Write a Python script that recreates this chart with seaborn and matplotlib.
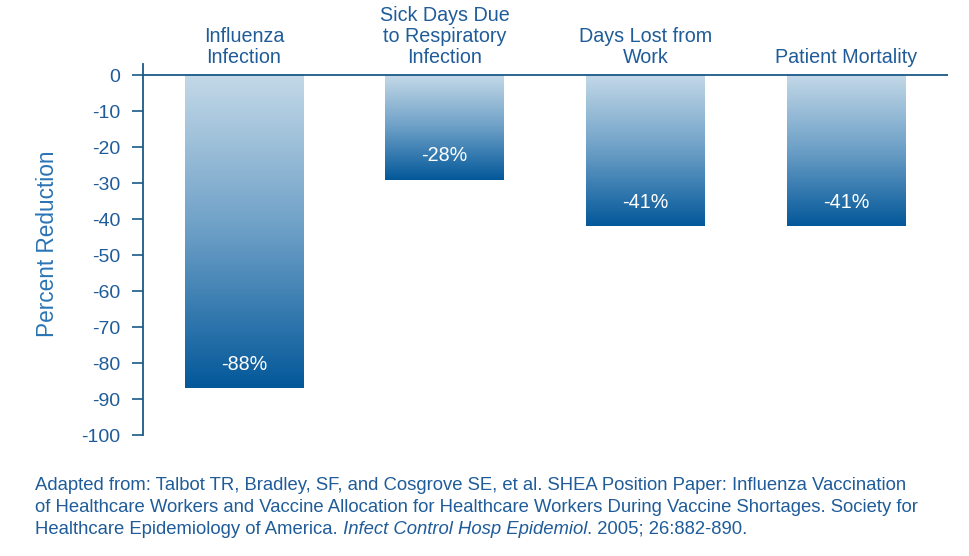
import numpy as np
import pandas as pd
import matplotlib
matplotlib.use("Agg")
import matplotlib.pyplot as plt
import seaborn as sns
from matplotlib.colors import LinearSegmentedColormap

# Data
categories = ["Influenza\nInfection", "Sick Days Due\nto Respiratory\nInfection",
              "Days Lost from\nWork", "Patient Mortality"]
bar_values = [-87, -29, -42, -42]
bar_labels = ["-88%", "-28%", "-41%", "-41%"]
y_ticks = [0, -10, -20, -30, -40, -50, -60, -70, -80, -90, -100]

TEXT_BLUE = "#1f5c99"
AXIS_BLUE = "#1a5a88"
LABEL_BLUE = "#2a74b4"
grad_cmap = LinearSegmentedColormap.from_list("bar_grad", ["#c4d9e8", "#6c9fc6", "#03589a"])

sns.set_theme(style="white")
plt.rcParams["font.family"] = ["Liberation Sans", "DejaVu Sans"]

fig = plt.figure(figsize=(9.69, 5.56), dpi=100)
ax = fig.add_axes([143 / 969, 1 - 435.3 / 556, (948 - 143) / 969, (435.3 - 64) / 556])

df = pd.DataFrame({"category": categories, "value": bar_values})
sns.barplot(data=df, x="category", y="value", width=0.59, ax=ax, color="white")

# gradient fill for each bar, light at the top and dark at the bottom
grad = np.linspace(0, 1, 256).reshape(-1, 1)
for patch, lab in zip(ax.patches, bar_labels):
    x0 = patch.get_x()
    w = patch.get_width()
    y0 = patch.get_y()
    h = patch.get_height()
    top, bot = max(y0, y0 + h), min(y0, y0 + h)
    patch.set_visible(False)
    ax.imshow(grad, extent=(x0, x0 + w, bot, top), origin="upper", aspect="auto",
              cmap=grad_cmap, zorder=2, interpolation="bicubic")
    ax.annotate(lab, xy=(x0 + w / 2, bot), xytext=(0, 24), textcoords="offset pixels",
                ha="center", va="center", color="white", fontsize=14.2, zorder=3)

# category labels above the zero line
for i, cat in enumerate(categories):
    ax.annotate(cat, xy=(i, 0), xytext=(0, 8), textcoords="offset pixels",
                ha="center", va="bottom", color=TEXT_BLUE, fontsize=14.2,
                linespacing=1.15, annotation_clip=False)

ax.set_xlim(-0.503, 3.508)
ax.set_ylim(-100, 3.1)
ax.axhline(0, color=AXIS_BLUE, lw=1.3, zorder=4)

ax.set_yticks(y_ticks)
ax.set_yticklabels([str(t) for t in y_ticks])
ax.set_xticks([])
ax.set_xlabel("")
ax.set_ylabel("Percent Reduction", color=LABEL_BLUE, fontsize=16.3)
ax.yaxis.set_label_coords(-0.104, 0.515)
ax.tick_params(axis="y", left=True, direction="out", length=8, width=1.2,
               color=AXIS_BLUE, labelcolor=TEXT_BLUE, labelsize=14, pad=8.5)
for side in ["top", "right", "bottom"]:
    ax.spines[side].set_visible(False)
ax.spines["left"].set_color(AXIS_BLUE)
ax.spines["left"].set_linewidth(1.3)

# source note, with the journal name in italics
note_size = 13.35
fig.text(35 / 969, 1 - 485 / 556,
         "Adapted from: Talbot TR, Bradley, SF, and Cosgrove SE, et al. SHEA Position Paper: Influenza Vaccination",
         color=TEXT_BLUE, fontsize=note_size, va="center", ha="left")
fig.text(35 / 969, 1 - 507 / 556,
         "of Healthcare Workers and Vaccine Allocation for Healthcare Workers During Vaccine Shortages. Society for",
         color=TEXT_BLUE, fontsize=note_size, va="center", ha="left")
t1 = fig.text(35 / 969, 1 - 529 / 556, "Healthcare Epidemiology of America.",
              color=TEXT_BLUE, fontsize=note_size, va="center", ha="left")
t2 = ax.annotate(" Infect Control Hosp Epidemiol", xy=(1, 0), xycoords=t1, va="bottom",
                 color=TEXT_BLUE, fontsize=note_size, style="italic", annotation_clip=False)
ax.annotate(". 2005; 26:882-890.", xy=(1, 0), xycoords=t2, va="bottom",
            color=TEXT_BLUE, fontsize=note_size, annotation_clip=False)

fig.savefig("out.png", dpi=100)
